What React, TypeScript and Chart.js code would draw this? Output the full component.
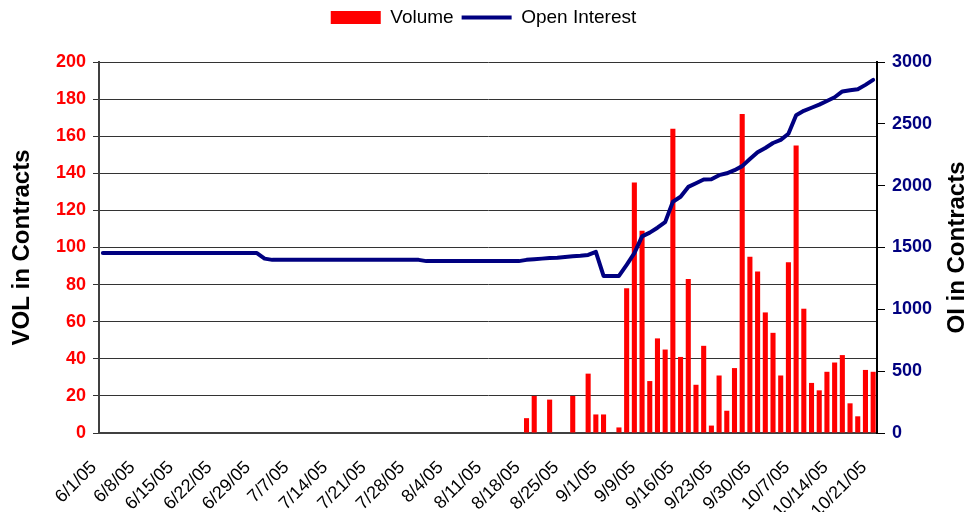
import React, { useEffect, useRef } from 'react';
import { Chart, registerables } from 'chart.js';

Chart.register(...registerables);

const dates: string[] = [
  '6/1/05', '6/2/05', '6/3/05', '6/6/05', '6/7/05', '6/8/05', '6/9/05', '6/10/05', '6/13/05', '6/14/05',
  '6/15/05', '6/16/05', '6/17/05', '6/20/05', '6/21/05', '6/22/05', '6/23/05', '6/24/05', '6/27/05', '6/28/05',
  '6/29/05', '6/30/05', '7/1/05', '7/5/05', '7/6/05', '7/7/05', '7/8/05', '7/11/05', '7/12/05', '7/13/05',
  '7/14/05', '7/15/05', '7/18/05', '7/19/05', '7/20/05', '7/21/05', '7/22/05', '7/25/05', '7/26/05', '7/27/05',
  '7/28/05', '7/29/05', '8/1/05', '8/2/05', '8/3/05', '8/4/05', '8/5/05', '8/8/05', '8/9/05', '8/10/05',
  '8/11/05', '8/12/05', '8/15/05', '8/16/05', '8/17/05', '8/18/05', '8/19/05', '8/22/05', '8/23/05', '8/24/05',
  '8/25/05', '8/26/05', '8/29/05', '8/30/05', '8/31/05', '9/1/05', '9/2/05', '9/6/05', '9/7/05', '9/8/05',
  '9/9/05', '9/12/05', '9/13/05', '9/14/05', '9/15/05', '9/16/05', '9/19/05', '9/20/05', '9/21/05', '9/22/05',
  '9/23/05', '9/26/05', '9/27/05', '9/28/05', '9/29/05', '9/30/05', '10/3/05', '10/4/05', '10/5/05', '10/6/05',
  '10/7/05', '10/10/05', '10/11/05', '10/12/05', '10/13/05', '10/14/05', '10/17/05', '10/18/05', '10/19/05', '10/20/05',
  '10/21/05',
];

const volume: number[] = [
  0, 0, 0, 0, 0, 0, 0, 0, 0, 0,
  0, 0, 0, 0, 0, 0, 0, 0, 0, 0,
  0, 0, 0, 0, 0, 0, 0, 0, 0, 0,
  0, 0, 0, 0, 0, 0, 0, 0, 0, 0,
  0, 0, 0, 0, 0, 0, 0, 0, 0, 0,
  0, 0, 0, 0, 0, 8, 20, 0, 18, 0,
  0, 20, 0, 32, 10, 10, 0, 3, 78, 135,
  109, 28, 51, 45, 164, 41, 83, 26, 47, 4,
  31, 12, 35, 172, 95, 87, 65, 54, 31, 92,
  155, 67, 27, 23, 33, 38, 42, 16, 9, 34,
  33,
];

const openInterest: number[] = [
  1455, 1455, 1455, 1455, 1455, 1455, 1455, 1455, 1455, 1455,
  1455, 1455, 1455, 1455, 1455, 1455, 1455, 1455, 1455, 1455,
  1455, 1410, 1400, 1400, 1400, 1400, 1400, 1400, 1400, 1400,
  1400, 1400, 1400, 1400, 1400, 1400, 1400, 1400, 1400, 1400,
  1400, 1400, 1390, 1390, 1390, 1390, 1390, 1390, 1390, 1390,
  1390, 1390, 1390, 1390, 1390, 1400, 1405, 1410, 1415, 1418,
  1424, 1430, 1433, 1440, 1465, 1270, 1270, 1270, 1360, 1455,
  1590, 1620, 1660, 1705, 1870, 1910, 1990, 2020, 2050, 2052,
  2085, 2100, 2125, 2158, 2215, 2270, 2305, 2345, 2370, 2420,
  2570, 2605, 2630, 2655, 2685, 2715, 2762, 2772, 2780, 2815,
  2855,
];

const seriesNames = ['Volume', 'Open Interest'];
const leftTitle = 'VOL in Contracts';
const rightTitleText = 'OI in Contracts';

const FONT = '"Liberation Sans", Arial, Helvetica, sans-serif';
const CANVAS_W = 967;
const CANVAS_H = 530;

const rightTitlePlugin = {
  id: 'rightTitle',
  afterDraw(chart: any) {
    const ctx = chart.ctx;
    const area = chart.chartArea;
    ctx.save();
    ctx.translate(957, (area.top + area.bottom) / 2);
    ctx.rotate(-Math.PI / 2);
    ctx.font = `bold 24px ${FONT}`;
    ctx.fillStyle = '#000000';
    ctx.textAlign = 'center';
    ctx.textBaseline = 'middle';
    ctx.fillText(rightTitleText, 0, 0);
    ctx.restore();
  },
};

const legendSpacePlugin = {
  id: 'legendSpace',
  beforeInit(chart: any) {
    const legend = chart.legend;
    if (!legend) return;
    const fit = legend.fit;
    legend.fit = function () {
      fit.call(this);
      this.height = 62;
    };
  },
};

export default function App() {
  const canvasRef = useRef<HTMLCanvasElement | null>(null);

  useEffect(() => {
    if (!canvasRef.current) return;
    const chart = new Chart(canvasRef.current, {
      type: 'bar',
      data: {
        labels: dates,
        datasets: [
          {
            type: 'bar',
            label: seriesNames[0],
            data: volume,
            backgroundColor: '#FF0000',
            borderWidth: 0,
            barPercentage: 0.66,
            categoryPercentage: 1.0,
            yAxisID: 'y',
            order: 1,
          } as any,
          {
            type: 'line',
            label: seriesNames[1],
            data: openInterest,
            borderColor: '#000080',
            backgroundColor: '#000080',
            borderWidth: 4,
            pointRadius: 0,
            tension: 0,
            borderJoinStyle: 'round',
            borderCapStyle: 'round',
            yAxisID: 'y1',
            order: 0,
          } as any,
        ],
      },
      options: {
        responsive: false,
        animation: false,
        layout: { padding: 0 },
        plugins: {
          tooltip: { enabled: false },
          title: { display: false },
          legend: {
            display: true,
            position: 'top',
            labels: {
              usePointStyle: true,
              pointStyleWidth: 50,
              boxHeight: 13,
              padding: 8,
              color: '#000000',
              font: { family: FONT, size: 19 },
              generateLabels(c: any) {
                const items = Chart.defaults.plugins.legend.labels.generateLabels(c);
                items.sort((a: any, b: any) => a.datasetIndex - b.datasetIndex);
                items.forEach((it: any) => {
                  if (it.datasetIndex === 0) {
                    it.pointStyle = 'rect';
                    it.fillStyle = '#FF0000';
                    it.strokeStyle = '#FF0000';
                    it.lineWidth = 0;
                  } else {
                    it.pointStyle = 'line';
                    it.fillStyle = '#000080';
                    it.strokeStyle = '#000080';
                    it.lineWidth = 4;
                  }
                });
                return items;
              },
            },
          },
        },
        scales: {
          x: {
            type: 'category',
            offset: true,
            grid: { display: false },
            border: { display: true, color: '#404040', width: 2 },
            ticks: {
              autoSkip: false,
              maxRotation: 45,
              minRotation: 45,
              padding: 16,
              labelOffset: -9,
              color: '#000000',
              font: { family: FONT, size: 18 },
              callback: (_v: any, i: number) => (i % 5 === 0 ? dates[i] : ''),
            },
            afterFit(scale: any) {
              scale.height = CANVAS_H - 433;
            },
          },
          y: {
            type: 'linear',
            position: 'left',
            min: 0,
            max: 200,
            grid: {
              color: '#333333',
              lineWidth: 1,
              drawTicks: true,
              tickLength: 6,
            },
            border: { display: true, color: '#404040', width: 2 },
            ticks: {
              stepSize: 20,
              padding: 7,
              color: '#FF0000',
              font: { family: FONT, size: 18, weight: 'bold' },
              callback: (v: any) => String(v),
            },
            title: {
              display: true,
              text: leftTitle,
              color: '#000000',
              font: { family: FONT, size: 24, weight: 'bold' },
              padding: { top: 8, bottom: 0 },
            },
            afterFit(scale: any) {
              scale.width = 99;
            },
          },
          y1: {
            type: 'linear',
            position: 'right',
            min: 0,
            max: 3000,
            grid: {
              drawOnChartArea: false,
              drawTicks: true,
              tickLength: 8,
              color: '#000000',
            },
            border: { display: true, color: '#000000', width: 2 },
            ticks: {
              stepSize: 500,
              padding: 7,
              color: '#000080',
              font: { family: FONT, size: 18, weight: 'bold' },
              callback: (v: any) => String(v),
            },
            afterFit(scale: any) {
              scale.width = 90;
            },
          },
        },
      } as any,
      plugins: [legendSpacePlugin, rightTitlePlugin],
    });
    return () => chart.destroy();
  }, []);

  return (
    <div
      style={{
        position: 'absolute',
        left: 0,
        top: 0,
        width: CANVAS_W,
        height: 512,
        overflow: 'hidden',
        background: '#ffffff',
      }}
    >
      <canvas
        ref={canvasRef}
        width={CANVAS_W}
        height={CANVAS_H}
        style={{ display: 'block', width: CANVAS_W, height: CANVAS_H }}
      />
    </div>
  );
}
